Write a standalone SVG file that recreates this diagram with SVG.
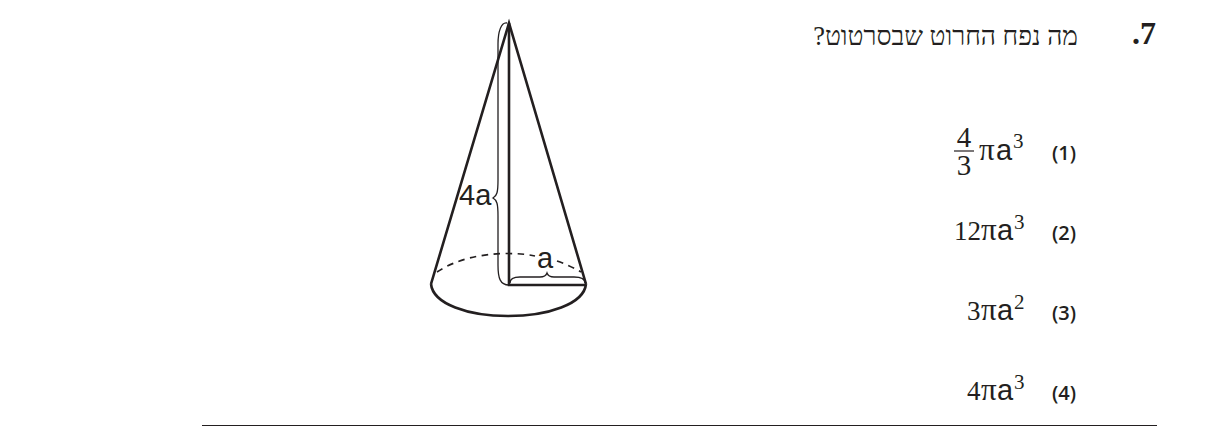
<svg xmlns="http://www.w3.org/2000/svg" width="1221" height="429" viewBox="0 0 1221 429">
<style>
.s{fill:none;stroke:#231f20;stroke-width:2.6}
.b{fill:none;stroke:#231f20;stroke-width:1.3}
.d{fill:none;stroke:#231f20;stroke-width:1.7;stroke-dasharray:6.500 5.500}
.ar{font-family:"Liberation Sans",sans-serif;fill:#231f20}
.se{font-family:"Liberation Serif",serif;fill:#231f20}
.opt{font-family:"Open Sans",sans-serif;font-weight:600;font-size:20px;fill:#231f20;text-anchor:middle}
.n{font-size:27px}
.pi{font-size:31px}
.m{font-size:29px}
.sup{font-size:21px}
</style>
<g id="cone">
<path class="s" d="M431 284L509 23L586 284"/>
<path class="s" d="M431 284C433 304 468 316 508 316C548 316 584 304 586 284"/>
<path class="d" d="M437 272C455 260 480 253.500 508 253.500C517 253.500 526 254 535 256"/>
<path class="d" d="M557 261C566 264 574 268 581 272"/>
<path class="s" stroke-width="3" d="M509 23V285H585"/>
<path class="b" d="M507 23C501 22 498 32 498 44V180C498 192 497 196 493 198C497 200 498 204 498 216V265C498 278 500 285 509 285"/>
<path class="b" d="M510 283C510 278 514 277 520 277H540C544 277 546 276 547 273C548 276 550 277 554 277H574C580 277 585 278 585 283"/>
<text class="ar" x="459" y="205" font-size="29">4a</text>
<text class="ar" x="537" y="268" font-size="29">a</text>
</g>
<g id="question">
<text class="se" x="1132" y="44" font-size="32" font-weight="bold" fill="#000">.7</text>
<text class="se" x="1078" y="45" font-size="26.400" direction="rtl">מה נפח החרוט שבסרטוט?</text>
</g>
<g id="option1">
<text class="se" x="964" y="147" font-size="29" text-anchor="middle">4</text>
<path d="M954 151H974" stroke="#231f20" stroke-width="1.2"/>
<text class="se" x="964" y="175" font-size="29" text-anchor="middle">3</text>
<text class="se pi" x="979" y="160">π</text><text class="ar m" x="996" y="160">a</text><text class="se sup" x="1013" y="148">3</text>
<text class="opt" x="1064" y="160">(1)</text>
</g>
<g id="option2">
<text class="se n" x="954" y="240">12</text><text class="se pi" x="981" y="240">π</text><text class="ar m" x="997" y="240">a</text><text class="se sup" x="1014" y="229">3</text>
<text class="opt" x="1064" y="240">(2)</text>
</g>
<g id="option3">
<text class="se n" x="967" y="320">3</text><text class="se pi" x="981" y="320">π</text><text class="ar m" x="997" y="320">a</text><text class="se sup" x="1014" y="309">2</text>
<text class="opt" x="1064" y="320">(3)</text>
</g>
<g id="option4">
<text class="se n" x="967" y="400">4</text><text class="se pi" x="981" y="400">π</text><text class="ar m" x="997" y="400">a</text><text class="se sup" x="1014" y="389">3</text>
<text class="opt" x="1064" y="400">(4)</text>
</g>
<path d="M202 425.500H1157" stroke="#231f20" stroke-width="1.200"/>
</svg>
